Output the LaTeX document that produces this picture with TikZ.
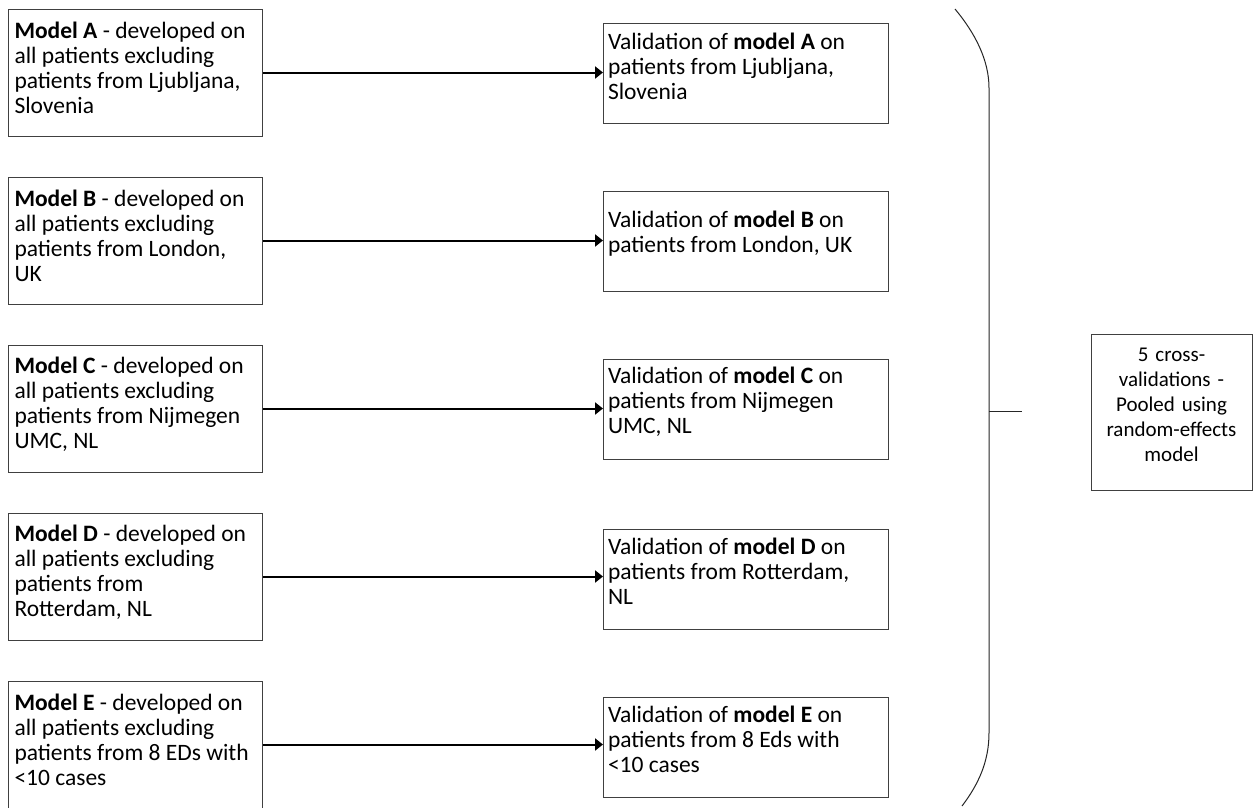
\documentclass[tikz,border=0pt]{standalone}
\usepackage{fontspec}
\setmainfont{Carlito}
\usetikzlibrary{arrows.meta}
\newcommand{\liftspace}{\endgraf\vspace{15pt}}
\newcommand{\liftsmall}{\endgraf\vspace{9pt}}
\begin{document}
\begin{tikzpicture}[x=1pt,y=-1pt,
  ltxt/.style={font=\fontsize{23.5}{25}\selectfont},
  ptxt/.style={font=\fontsize{21}{25}\selectfont},
  lift/.style={execute at end node={\liftspace}},
  liftl/.style={execute at end node={\liftsmall}},
  lbox/.style={ltxt, liftl, draw=black!75, line width=1pt, minimum width=254pt, minimum height=127pt, text width=242pt, align=flush left, inner xsep=6pt, inner ysep=0pt, anchor=west},
  rbox/.style={ltxt, lift, draw=black!75, line width=1pt, minimum width=285pt, minimum height=100pt, text width=276pt, align=flush left, inner xsep=4.5pt, inner ysep=0pt, anchor=west},
  pbox/.style={ptxt, lift, draw=black!75, line width=1pt, minimum width=161pt, minimum height=156pt, text width=155pt, align=center, inner xsep=3pt, inner ysep=0pt},
  conn/.style={line width=2pt, -{Triangle[length=8pt,width=12pt]}},
  brace/.style={line width=1pt, black!85},
]
\useasboundingbox (0,0) rectangle (1256,807);
\fill[white] (0,0) rectangle (1256,807);

\node[lbox] (la) at (8,72.5) {\textbf{Model A} - developed on\\all patients excluding\\patients from Ljubljana,\\Slovenia};
\node[lbox] (lb) at (8,240.5) {\textbf{Model B} - developed on\\all patients excluding\\patients from London,\\UK};
\node[lbox] (lc) at (8,408.5) {\textbf{Model C} - developed on\\all patients excluding\\patients from Nijmegen\\UMC, NL};
\node[lbox] (ld) at (8,576.5) {\textbf{Model D} - developed on\\all patients excluding\\patients from\\Rotterdam, NL};
\node[lbox] (le) at (8,744.5) {\textbf{Model E} - developed on\\all patients excluding\\patients from 8 EDs with\\<10 cases};

\node[rbox] (ra) at (603,73.5) {Validation of \textbf{model A} on\\patients from Ljubljana,\\Slovenia};
\node[rbox] (rb) at (603,241) {Validation of \textbf{model B} on\\patients from London, UK};
\node[rbox] (rc) at (603,409) {Validation of \textbf{model C} on\\patients from Nijmegen\\UMC, NL};
\node[rbox] (rd) at (603,579) {Validation of \textbf{model D} on\\patients from Rotterdam,\\NL};
\node[rbox] (re) at (603,747) {Validation of \textbf{model E} on\\patients from 8 Eds with\\<10 cases};

\foreach \a/\b in {la/ra,lb/rb,lc/rc,ld/rd,le/re}
  \draw[conn] (\a.east) -- (\b.west |- \a.east);

\node[pbox] (pool) at (1171.5,412) {5 cross-\\validations -\\Pooled using\\random-effects\\model};

\coordinate (bt) at (955,9);
\coordinate (bm) at (989,411);
\coordinate (bk) at (1022,411);
\coordinate (bb) at (962,806);
\draw[brace] (bt) .. controls (975,33) and (989,60) .. (989,88) -- (989,733) .. controls (989,762) and (978,785) .. (bb);
\draw[brace] (bm) -- (bk);
\end{tikzpicture}
\end{document}
